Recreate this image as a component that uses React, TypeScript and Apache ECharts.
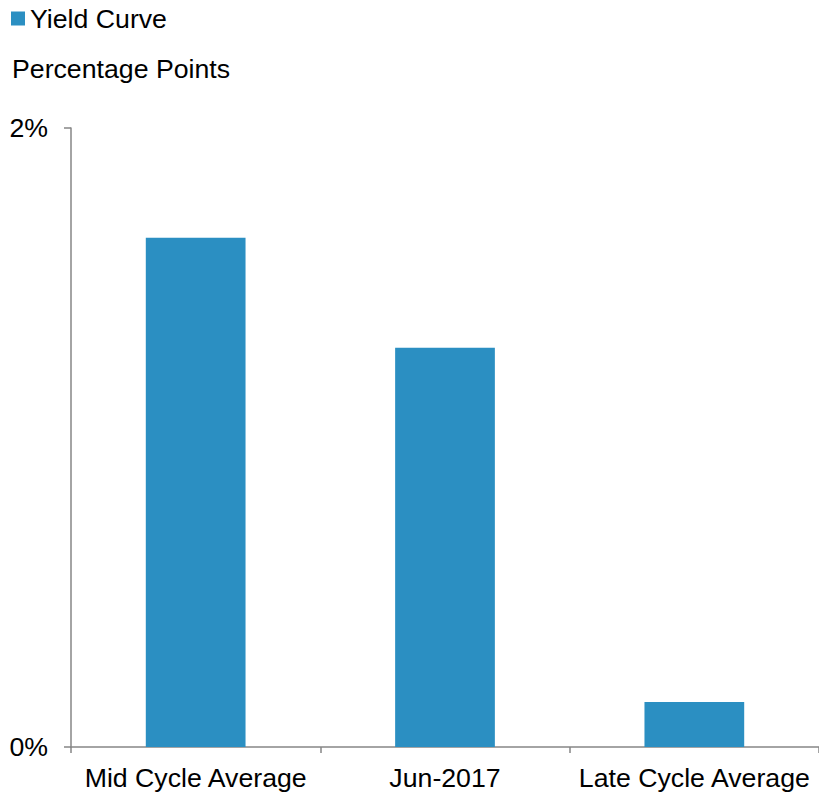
import React, { useEffect, useRef } from "react";
import * as echarts from "echarts";

const categories = ["Mid Cycle Average", "Jun-2017", "Late Cycle Average"];
const yieldCurve = [1.645, 1.29, 0.145];
const seriesName = "Yield Curve";
const unitLabel = "Percentage Points";

const W = 819;
const H = 796;

export default function App() {
  const ref = useRef<HTMLDivElement>(null);
  useEffect(() => {
    if (!ref.current) return;
    const chart = echarts.init(ref.current, null, { renderer: "svg", width: W, height: H });
    const font = "Liberation Sans, Arial, sans-serif";
    const fs = 26.7;
    chart.setOption({
      animation: false,
      textStyle: { fontFamily: font },
      title: {
        text: unitLabel,
        left: 12,
        top: 55,
        padding: 0,
        textStyle: { fontFamily: font, fontSize: fs, fontWeight: "normal", color: "#000" },
      },
      legend: {
        left: 11,
        top: 5,
        padding: 0,
        icon: "rect",
        itemWidth: 14,
        itemHeight: 14,
        textStyle: { fontFamily: font, fontSize: fs, color: "#000" },
        data: [seriesName],
      },
      grid: { left: 71, right: -3.5, top: 128, bottom: 49, containLabel: false },
      xAxis: {
        type: "category",
        data: categories,
        axisLine: { lineStyle: { color: "#868686", width: 1.5 } },
        axisTick: { show: true, length: 6, alignWithLabel: false, lineStyle: { color: "#868686", width: 1.5 } },
        axisLabel: { fontFamily: font, fontSize: fs, color: "#000", margin: 17, interval: 0 },
      },
      yAxis: {
        type: "value",
        min: 0,
        max: 2,
        interval: 2,
        splitLine: { show: false },
        axisLine: { show: true, lineStyle: { color: "#868686", width: 1.5 } },
        axisTick: { show: true, length: 7, lineStyle: { color: "#868686", width: 1.5 } },
        axisLabel: { fontFamily: font, fontSize: fs, color: "#000", margin: 23, formatter: (v: number) => `${v}%` },
      },
      series: [
        {
          name: seriesName,
          type: "bar",
          data: yieldCurve,
          barWidth: "40%",
          itemStyle: { color: "#2b8fc2" },
        },
      ],
    });
    return () => chart.dispose();
  }, []);
  return (
    <div
      ref={ref}
      style={{ position: "absolute", left: 0, top: 0, width: W, height: H, overflow: "hidden" }}
    />
  );
}
